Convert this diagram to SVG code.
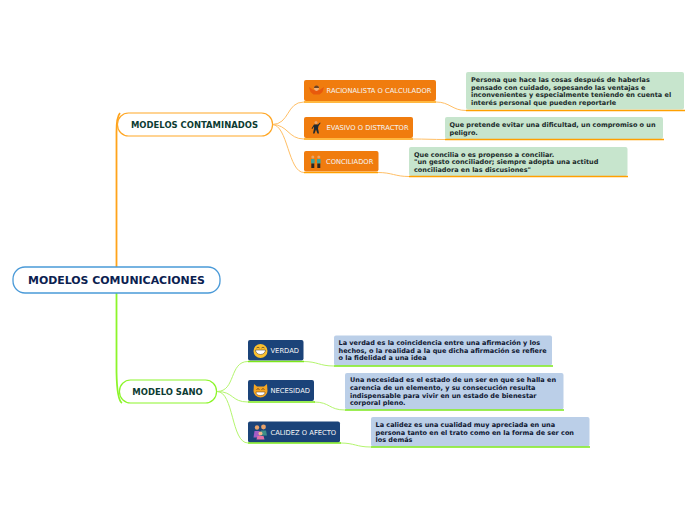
<svg xmlns="http://www.w3.org/2000/svg" width="696" height="520" viewBox="0 0 696 520">
<style>
text{font-family:"DejaVu Sans",Verdana,sans-serif}
.root{fill:#fff;stroke:#4a9ad8;stroke-width:1.3}
.roott{font-size:10.950px;font-weight:700;fill:#0b2150;text-anchor:middle}
.mainO{fill:#fff;stroke:#ffa726;stroke-width:1.2}
.mainG{fill:#fff;stroke:#8cf52a;stroke-width:1.2}
.maint{font-size:8.450px;font-weight:700;fill:#0d3b32;text-anchor:middle}
.o{fill:#f07c0e}.b{fill:#1b4379}
.lab{font-size:6.750px;fill:#f4f4f4}
.noteO{fill:#c7e5cd}.noteB{fill:#bbcfe8}
.nt{font-size:6.500px;font-weight:700;fill:#1a2a2a}
.nb{font-size:6.500px;font-weight:700;fill:#0e1630}
.uo{stroke:#ffa000;stroke-width:1.500;fill:none}
.ug{stroke:#7be81a;stroke-width:1.500;fill:none}
.co{stroke:#ffbf66;stroke-width:1;fill:none}
.cg{stroke:#b4f56e;stroke-width:1;fill:none}
</style>
<g id="connectors">
<path d="M116.500 267V132Q116.500 117 120 113" fill="none" stroke="#ffa31a" stroke-width="1.800"/>
<path d="M116.500 293V372Q117 400 122 403" fill="none" stroke="#8cf52a" stroke-width="1.800"/>
<path class="co" d="M272 124.500C290 124.500 286 102 304 102"/>
<path class="co" d="M272 124.500C288 124.500 288 139 304 139"/>
<path class="co" d="M272 124.500C288 124.500 288 172.500 304 172.500"/>
<path class="co" d="M436 102C450 102 452 110.500 466 110.500"/>
<path class="co" d="M413 139C425 139 433 139.500 445 139.500"/>
<path class="co" d="M378 172.500C392 172.500 395 176.500 409 176.500"/>
<path class="cg" d="M217 391.500C236 391.500 229 361.500 248 361.500"/>
<path class="cg" d="M217 391.500C234 391.500 231 402 248 402"/>
<path class="cg" d="M217 391.500C234 391.500 231 443 248 443"/>
<path class="cg" d="M303 361.500C318 361.500 319 366 334 366"/>
<path class="cg" d="M314 402C330 402 329 410 345 410"/>
<path class="cg" d="M340 443C355 443 356 447 371 447"/>
</g>
<g id="root"><rect class="root" x="13" y="267" width="207" height="26" rx="12"/><text class="roott" x="116.500" y="284">MODELOS COMUNICACIONES</text></g>
<g id="contaminados"><rect class="mainO" x="117.500" y="113" width="155" height="23" rx="11"/><text class="maint" x="194.500" y="128">MODELOS CONTAMINADOS</text></g>
<g id="sano"><rect class="mainG" x="119.500" y="380" width="97" height="23" rx="11"/><text class="maint" x="167.500" y="395">MODELO SANO</text></g>

<g id="racionalista"><rect class="o" x="304" y="80" width="132" height="21" rx="2"/><path class="uo" d="M304 102H436"/>
<path d="M309 87l4.500 3h6l4.500-3-1.500 5-3 2.500h-6l-3-2.500z" fill="#e8590c"/><circle cx="316.500" cy="88.500" r="2.400" fill="#f2b27a"/><path d="M314 88a2.500 2.500 0 0 1 5 0z" fill="#6b4326"/>
<text class="lab" x="326.500" y="93">RACIONALISTA O CALCULADOR</text></g>
<g id="evasivo"><rect class="o" x="304" y="117" width="109" height="21" rx="2"/><path class="uo" d="M304 139H413"/>
<circle cx="316" cy="122.500" r="1.500" fill="#e9a46a"/><path d="M314 124.500h4l2-2 .6.600-2.100 2.900-.5 2.500 1 5h-1.500l-1.500-4-1.500 4h-1.500l1-5-.5-2-1 2.500-1-.500z" fill="#1d2a33"/>
<text class="lab" x="326.500" y="130">EVASIVO O DISTRACTOR</text></g>
<g id="conciliador"><rect class="o" x="304" y="151" width="74.500" height="20.500" rx="2"/><path class="uo" d="M304 172.500H378"/>
<circle cx="312.800" cy="157" r="1.500" fill="#e9a46a"/><circle cx="318.800" cy="157" r="1.500" fill="#e9a46a"/><rect x="311" y="159" width="3.600" height="4.500" fill="#3aa39b"/><rect x="317" y="159" width="3.600" height="4.500" fill="#3aa39b"/><rect x="311.300" y="163.500" width="3" height="4.500" fill="#2b2620"/><rect x="317.300" y="163.500" width="3" height="4.500" fill="#2b2620"/>
<text class="lab" x="326" y="164">CONCILIADOR</text></g>

<g id="nota-racionalista"><rect class="noteO" x="466" y="72" width="218" height="37.500" rx="2"/><path class="uo" d="M466 110.500H685"/>
<text class="nt" x="471" y="82">Persona que hace las cosas después de haberlas</text><text class="nt" x="471" y="89.500">pensado con cuidado, sopesando las ventajas e</text><text class="nt" x="471" y="97">inconvenientes y especialmente teniendo en cuenta el</text><text class="nt" x="471" y="104.500">interés personal que pueden reportarle</text></g>
<g id="nota-evasivo"><rect class="noteO" x="445" y="117" width="218" height="22" rx="2"/><path class="uo" d="M445 139.500H664"/>
<text class="nt" x="449.500" y="127">Que pretende evitar una dificultad, un compromiso o un</text><text class="nt" x="449.500" y="134.500">peligro.</text></g>
<g id="nota-conciliador"><rect class="noteO" x="409" y="147" width="218.500" height="29" rx="2"/><path class="uo" d="M409 176.500H628"/>
<text class="nt" x="414" y="156.500">Que concilia o es propenso a conciliar.</text><text class="nt" x="414" y="164">"un gesto conciliador; siempre adopta una actitud</text><text class="nt" x="414" y="171.500">conciliadora en las discusiones"</text></g>

<g id="verdad"><rect class="b" x="248" y="340" width="55.500" height="20.500" rx="2"/><path class="ug" d="M248 361.500H304"/>
<circle cx="260.500" cy="351" r="7" fill="#fbc02d"/><path d="M255.500 350h10a5 4.500 0 0 1-10 0z" fill="#fff" stroke="#5a4632" stroke-width=".6"/><path d="M256.500 348a2 2 0 0 1 3 0M261.500 348a2 2 0 0 1 3 0" fill="none" stroke="#5a4632" stroke-width=".8"/>
<text class="lab" x="270.500" y="353">VERDAD</text></g>
<g id="necesidad"><rect class="b" x="248" y="380" width="66" height="21" rx="2"/><path class="ug" d="M248 402H315"/>
<path d="M254 384l3 2.500h7l3-2.500.5 7a7 6.500 0 0 1-14 0z" fill="#f5a623"/><path d="M256 392h9a4.500 3.500 0 0 1-9 0z" fill="#fff" stroke="#5a3a1a" stroke-width=".5"/><path d="M256.500 389.500a2 2 0 0 1 3 0M261.500 389.500a2 2 0 0 1 3 0" fill="none" stroke="#5a3a1a" stroke-width=".8"/>
<text class="lab" x="270.500" y="393">NECESIDAD</text></g>
<g id="calidez"><rect class="b" x="248" y="421.500" width="92" height="21" rx="2"/><path class="ug" d="M248 443H341"/>
<circle cx="257" cy="427.500" r="2.200" fill="#e8a36c"/><circle cx="263.500" cy="427" r="2.400" fill="#e8a36c"/><path d="M254.500 431h5l1 6.500h-7z" fill="#a45cc4"/><path d="M261 430.500h5l1 5h-6z" fill="#3f8f88"/><circle cx="260.500" cy="433.500" r="2" fill="#f0b78a"/><path d="M257.500 436h6l1 3.500h-8z" fill="#e56fa8"/>
<text class="lab" x="270.500" y="434.500">CALIDEZ O AFECTO</text></g>

<g id="nota-verdad"><rect class="noteB" x="334" y="335.500" width="218" height="30" rx="2"/><path class="ug" d="M334 366H553"/>
<text class="nb" x="338.500" y="345">La verdad es la coincidencia entre una afirmación y los</text><text class="nb" x="338.500" y="352.500">hechos, o la realidad a la que dicha afirmación se refiere</text><text class="nb" x="338.500" y="360">o la fidelidad a una idea</text></g>
<g id="nota-necesidad"><rect class="noteB" x="345" y="373" width="218.500" height="36.500" rx="2"/><path class="ug" d="M345 410H564"/>
<text class="nb" x="350" y="382">Una necesidad es el estado de un ser en que se halla en</text><text class="nb" x="350" y="390">carencia de un elemento, y su consecución resulta</text><text class="nb" x="350" y="397.500">indispensable para vivir en un estado de bienestar</text><text class="nb" x="350" y="405">corporal pleno.</text></g>
<g id="nota-calidez"><rect class="noteB" x="371" y="417" width="218.500" height="29.500" rx="2"/><path class="ug" d="M371 447H590"/>
<text class="nb" x="375.500" y="427">La calidez es una cualidad muy apreciada en una</text><text class="nb" x="375.500" y="434.500">persona tanto en el trato como en la forma de ser con</text><text class="nb" x="375.500" y="442">los demás</text></g>
</svg>
